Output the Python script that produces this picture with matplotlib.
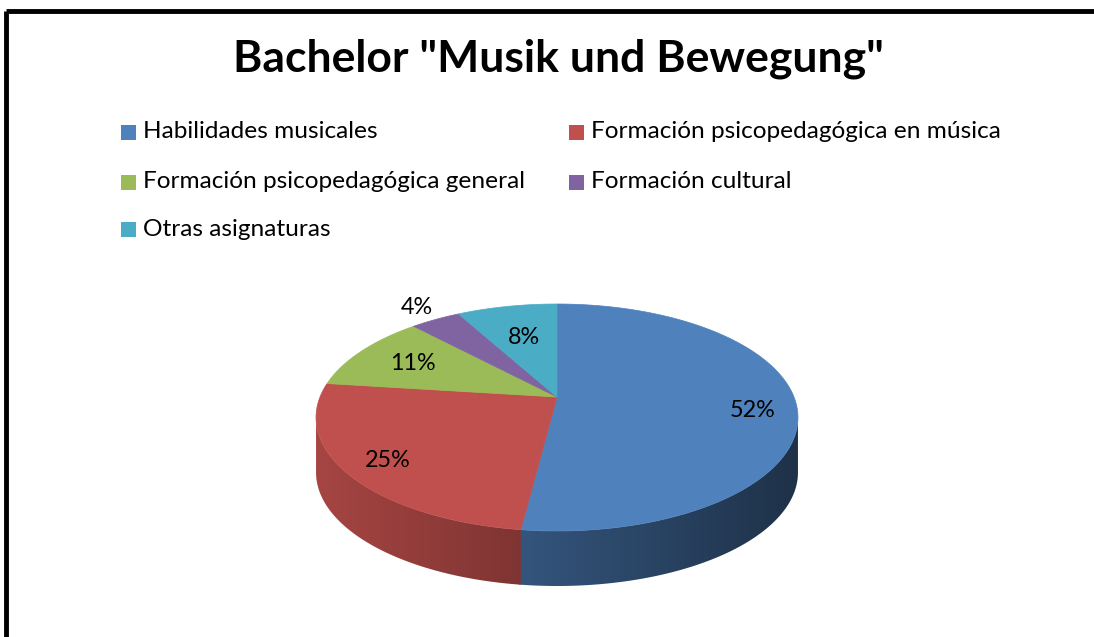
import numpy as np
import matplotlib
matplotlib.use("Agg")
import matplotlib.pyplot as plt
from matplotlib.patches import Polygon, Rectangle
from matplotlib.lines import Line2D

# ---------------- data ----------------
title = 'Bachelor "Musik und Bewegung"'
categories = ["Habilidades musicales",
              "Formación psicopedagógica en música",
              "Formación psicopedagógica general",
              "Formación cultural",
              "Otras asignaturas"]
values = [52, 25, 11, 4, 8]
labels = ["52%", "25%", "11%", "4%", "8%"]
colors = ["#4F81BD", "#C0504D", "#9BBB59", "#8064A2", "#4BACC6"]

# ---------------- layout (pixel space) ----------------
W, H = 1094, 637
FONT = "Lato"
CX, CY = 557, 397          # projected centre of pie top
R = 237                     # horizontal radius
A, B = 109.8, -0.1806       # perspective parameters
DEPTH = 55
label_k = [0.82, 0.82, 0.72, 1.18, 0.62]
label_dy = [8, 3, 0, 0, 0]

fig = plt.figure(figsize=(W / 100, H / 100), dpi=100)
ax = fig.add_axes([0, 0, 1, 1])
ax.set_xlim(0, W)
ax.set_ylim(H, 0)
ax.axis("off")


def proj(phi, k=1.0):
    """phi in radians, 0 at top (far), clockwise on screen."""
    c = k * np.sin(phi)
    s = -k * np.cos(phi)
    w = 1 + B * s
    return CX + R * c / w, CY + A * s / w


# border lines (top and left)
ax.add_line(Line2D([5.5, W], [11, 11], color="black", lw=3.5, solid_capstyle="butt"))
ax.add_line(Line2D([5.5, 5.5], [11, H], color="black", lw=3.5, solid_capstyle="butt"))

# title
ax.text(558, 59, title, ha="center", va="center", fontsize=32, fontweight="bold",
        family=FONT, color="black")

# legend
leg_pos = [(121, 132), (569, 132), (121, 182), (569, 182), (121, 229)]
for (lx, ly), cat, col in zip(leg_pos, categories, colors):
    ax.add_patch(Rectangle((lx, ly - 7.5), 15, 15, facecolor=col, edgecolor="none"))
    ax.text(lx + 22, ly, cat, ha="left", va="center", fontsize=17.6, family=FONT,
            color="black")

# angles
total = float(sum(values))
bounds = np.concatenate([[0], np.cumsum(values)]) / total * 2 * np.pi

# silhouette limits for visible side
phis = np.linspace(0, 2 * np.pi, 4001)
xs, _ = proj(phis)
phi_right = phis[np.argmax(xs)]
phi_left = phis[np.argmin(xs)]
xmin, xmax = xs.min() - 2, xs.max() + 2
ytop, ybot = CY - 100, CY + 140 + DEPTH + 5


def gradient_img(col):
    rgb = np.array(matplotlib.colors.to_rgb(col))
    xg = np.linspace(xmin, xmax, 600)
    f = np.clip(0.86 - (xg - 320) * 0.00100, 0.35, 0.95)
    img = rgb[None, None, :] * f[None, :, None]
    return np.repeat(img, 2, axis=0)


# sides with horizontal gradient
for i, col in enumerate(colors):
    a0 = max(bounds[i], phi_right)
    a1 = min(bounds[i + 1] + 0.006, phi_left)
    if a1 <= a0:
        continue
    ts = np.linspace(a0, a1, 300)
    px, py = proj(ts)
    pts = list(zip(px, py)) + list(zip(px[::-1], py[::-1] + DEPTH))
    poly = Polygon(pts, closed=True, facecolor="none", edgecolor="none")
    ax.add_patch(poly)
    im = ax.imshow(gradient_img(col), extent=(xmin, xmax, ybot, ytop),
                   aspect="auto", interpolation="bilinear", zorder=1)
    im.set_clip_path(poly)

# top faces
for i, col in enumerate(colors):
    ts = np.linspace(bounds[i], bounds[i + 1], 200)
    px, py = proj(ts)
    pts = [(CX, CY)] + list(zip(px, py))
    ax.add_patch(Polygon(pts, closed=True, facecolor=col, edgecolor=col, lw=0.5,
                         zorder=2))

ax.set_xlim(0, W)
ax.set_ylim(H, 0)

# data labels
for i, lab in enumerate(labels):
    mid = (bounds[i] + bounds[i + 1]) / 2
    lx, ly = proj(mid, label_k[i])
    ax.text(lx, ly + label_dy[i], lab, ha="center", va="center", fontsize=16.8,
            family=FONT, color="black", zorder=3)

fig.savefig("out.png", dpi=100, facecolor="white")
